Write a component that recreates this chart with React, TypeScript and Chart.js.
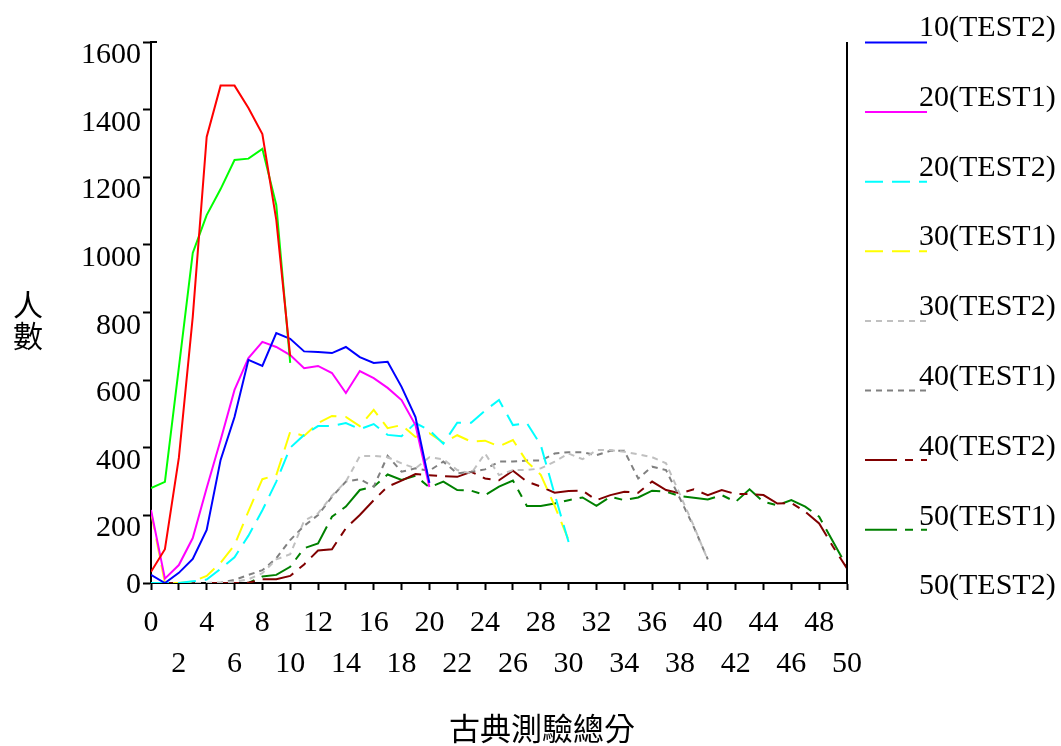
import React, { useEffect, useRef } from 'react';
import { Chart, registerables } from 'chart.js';

Chart.register(...registerables);

// ---- data (value per score, index = score) ----
const seriesNames = [
  '10(TEST1)', '10(TEST2)', '20(TEST1)', '20(TEST2)', '30(TEST1)',
  '30(TEST2)', '40(TEST1)', '40(TEST2)', '50(TEST1)', '50(TEST2)',
];
const s10T1 = [33, 100, 370, 787, 1319, 1471, 1471, 1405, 1328, 1074, 670];
const s10T2 = [281, 299, 637, 976, 1088, 1165, 1251, 1255, 1284, 1118, 651];
const s20T1 = [24, 0, 30, 71, 157, 364, 491, 660, 642, 739, 722, 685, 683, 680, 698, 668, 651, 654, 580, 491, 296];
const s20T2 = [216, 13, 53, 133, 281, 423, 571, 665, 713, 698, 674, 635, 642, 621, 562, 627, 606, 577, 541, 467, 284];
const s30T1 = [0, 0, 0, 5, 10, 42, 76, 140, 215, 300, 400, 438, 464, 464, 473, 455, 470, 438, 434, 473, 452, 412, 474, 474, 510, 541, 467, 473, 408, 262, 121];
const s30T2 = [210, 0, 0, 4, 21, 60, 112, 212, 307, 319, 447, 435, 473, 494, 491, 464, 512, 458, 467, 432, 443, 415, 437, 418, 421, 404, 423, 359, 320, 228, 127];
const s40T1 = [0, 0, 0, 0, 0, 0, 4, 11, 29, 70, 85, 184, 206, 258, 300, 375, 376, 372, 354, 339, 372, 366, 334, 324, 383, 319, 334, 334, 339, 359, 383, 366, 393, 393, 388, 381, 372, 354, 262, 168, 68];
const s40T2 = [0, 0, 0, 0, 0, 1, 9, 24, 38, 73, 127, 169, 201, 255, 300, 307, 285, 376, 329, 339, 332, 359, 324, 329, 336, 359, 359, 362, 362, 383, 387, 387, 378, 391, 391, 309, 344, 334, 250, 165, 70];
const s50T1 = [0, 0, 0, 0, 0, 0, 0, 1, 11, 11, 21, 55, 96, 100, 162, 201, 245, 285, 303, 322, 319, 316, 314, 329, 309, 304, 332, 300, 285, 267, 272, 273, 245, 260, 270, 267, 300, 275, 265, 277, 260, 275, 263, 263, 260, 235, 237, 211, 176, 107, 43];
const s50T2 = [0, 0, 0, 0, 0, 0, 0, 0, 19, 24, 48, 103, 117, 196, 226, 275, 285, 321, 305, 317, 283, 300, 275, 273, 260, 285, 303, 228, 228, 235, 245, 253, 228, 255, 245, 253, 273, 270, 257, 252, 247, 260, 240, 277, 240, 230, 245, 226, 196, 122, 48];

const yTickLabels = [0, 200, 400, 600, 800, 1000, 1200, 1400, 1600];
const xTickLabels = [0, 2, 4, 6, 8, 10, 12, 14, 16, 18, 20, 22, 24, 26, 28, 30, 32, 34, 36, 38, 40, 42, 44, 46, 48, 50];
const xTitle = '古典測驗總分';
const yTitle = '人數';

const allSeries = [s10T1, s10T2, s20T1, s20T2, s30T1, s30T2, s40T1, s40T2, s50T1, s50T2];

// ---- styles ----
const colors = ['#ff0000', '#00ff00', '#0000ff', '#ff00ff', '#00ffff', '#ffff00', '#c0c0c0', '#808080', '#800000', '#008000'];
const dashes: number[][] = [[], [], [], [], [18, 9], [18, 9], [6, 5], [6, 5], [32, 8, 8, 8], [32, 8, 8, 8]];

const SERIF = "'Liberation Serif', 'Times New Roman', serif";
const CJK = "'Liberation Serif', 'Noto Sans CJK TC', 'Noto Sans CJK SC', serif";

const overlay = {
  id: 'overlay',
  afterDraw(chart: any) {
    const { ctx, chartArea: ca } = chart;
    const x = chart.scales.x;
    const y = chart.scales.y;
    ctx.save();
    ctx.strokeStyle = '#000';
    ctx.lineWidth = 2;
    ctx.setLineDash([]);
    ctx.beginPath();
    ctx.moveTo(ca.right, ca.top);
    ctx.lineTo(ca.right, ca.bottom + 1);
    ctx.stroke();
    ctx.beginPath();
    ctx.moveTo(ca.left, ca.top);
    ctx.lineTo(ca.left + 6, ca.top);
    ctx.stroke();

    ctx.fillStyle = '#000';
    ctx.font = `30px ${SERIF}`;
    ctx.textAlign = 'right';
    ctx.textBaseline = 'alphabetic';
    yTickLabels.forEach((v) => {
      const py = y.getPixelForValue(v);
      ctx.fillText(String(v), ca.left - 10, v === 0 ? py + 10 : py + 21);
    });
    ctx.textAlign = 'center';
    xTickLabels.forEach((v, i) => {
      const px = x.getPixelForValue(v);
      ctx.fillText(String(v), px, ca.bottom + (i % 2 === 0 ? 48 : 89));
    });

    ctx.font = `31px ${CJK}`;
    ctx.textBaseline = 'middle';
    ctx.fillText(xTitle, 542, 732);
    ctx.font = `30px ${CJK}`;
    Array.from(yTitle).forEach((ch, i) => ctx.fillText(ch, 28, 308 + i * 31));

    // legend (as in the reference: labels start at the 2nd series, sample lines from the 3rd)
    ctx.textAlign = 'left';
    ctx.textBaseline = 'alphabetic';
    ctx.font = `30px ${SERIF}`;
    for (let j = 0; j < seriesNames.length - 1; j++) {
      const ds = chart.data.datasets[j + 2];
      if (ds) {
        const ly = 42.5 + 69.6 * j;
        ctx.strokeStyle = ds.borderColor;
        ctx.lineWidth = 2;
        ctx.setLineDash(ds.borderDash || []);
        ctx.beginPath();
        ctx.moveTo(865, ly);
        ctx.lineTo(927, ly);
        ctx.stroke();
      }
    }
    ctx.setLineDash([]);
    ctx.fillStyle = '#000';
    for (let j = 0; j < seriesNames.length - 1; j++) {
      ctx.fillText(seriesNames[j + 1], 919, 36 + 69.8 * j);
    }
    ctx.restore();
  },
};

export default function App() {
  const ref = useRef<HTMLCanvasElement>(null);
  useEffect(() => {
    if (!ref.current) return;
    const datasets = allSeries.map((arr, i) => ({
      label: seriesNames[i],
      data: arr.map((v, k) => ({ x: k, y: v })),
      borderColor: colors[i],
      backgroundColor: colors[i],
      borderDash: dashes[i],
      borderWidth: 2,
      pointRadius: 0,
      fill: false,
      tension: 0,
    }));
    const gridOpts = (len: number) => ({
      display: true,
      drawOnChartArea: false,
      drawTicks: true,
      tickLength: len,
      tickWidth: 2,
      tickColor: '#000',
    });
    const chart = new Chart(ref.current, {
      type: 'line',
      data: { datasets },
      options: {
        responsive: false,
        animation: false,
        events: [],
        layout: { padding: { top: 42, right: 214, left: 0, bottom: 0 } },
        plugins: { legend: { display: false }, tooltip: { enabled: false }, title: { display: false } },
        scales: {
          x: {
            type: 'linear',
            min: 0,
            max: 50,
            ticks: { display: false, stepSize: 2 },
            grid: gridOpts(7),
            border: { display: true, color: '#000', width: 2 },
            afterFit: (s: any) => { s.height = 163; },
          },
          y: {
            type: 'linear',
            min: 0,
            max: 1600,
            ticks: { display: false, stepSize: 200 },
            grid: gridOpts(8),
            border: { display: true, color: '#000', width: 2 },
            afterFit: (s: any) => { s.width = 151; },
          },
        },
      } as any,
      plugins: [overlay],
    });
    return () => chart.destroy();
  }, []);
  return (
    <div style={{ position: 'absolute', left: 0, top: 0, width: 1061, height: 746, background: '#fff' }}>
      <canvas ref={ref} width={1061} height={746} style={{ display: 'block' }} />
    </div>
  );
}
